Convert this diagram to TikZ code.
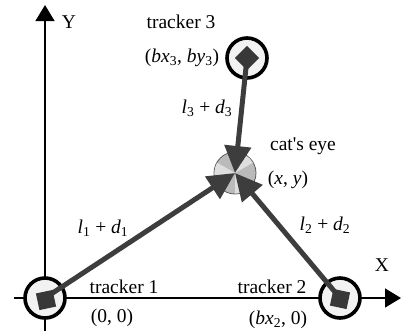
\documentclass[tikz,border=0pt]{standalone}
\usepackage{fontspec}
\setmainfont{Liberation Serif}
\usetikzlibrary{arrows.meta,positioning}

\begin{document}
\begin{tikzpicture}[x=1pt,y=-1pt,
   every node/.style={font=\fontsize{19.5}{23}\selectfont,inner sep=0pt},
   tracker/.style={circle,draw=black,line width=3.6pt,fill=black!5,minimum size=40pt},
   target/.style={rectangle,fill=black!78,minimum size=17pt},
   beam/.style={-{Triangle[length=27pt,width=26pt]},line width=5pt,draw=black!76},
   axis/.style={-{Triangle[length=16pt,width=19pt]},line width=1.3pt}]
  \useasboundingbox (0,0) rectangle (401,333);
  % axes
  \coordinate (xs) at (14,298);
  \coordinate (xe) at (401,298);
  \coordinate (ys) at (45,331);
  \coordinate (ye) at (45,5);
  \draw[axis] (xs) -- (xe);
  \draw[axis] (ys) -- (ye);
  \node (xlab) at (382,265) {X};
  \node (ylab) at (69,22) {Y};
  % trackers and cat's eye
  \node[tracker] (t1) at (45,298) {};
  \node[tracker] (t2) at (340,298) {};
  \node[tracker] (t3) at (247,58) {};
  \node[circle,draw=black!65,line width=0.8pt,fill=black!27,minimum size=42pt] (eye) at (235,173) {};
  \foreach \a in {30,150,270}
    \fill[black!13] (eye.center) -- ++(\a:20.6) arc[start angle=\a,end angle=\a+60,radius=20.6] -- cycle;
  \path
   (t1.center) edge[beam] (eye.center)
   (t2.center) edge[beam] (eye.center)
   (t3.center) edge[beam] (eye.center);
  \node[target,rotate=12] (s1) at (46,300) {};
  \node[target,rotate=-12] (s2) at (340,299) {};
  \node[target,rotate=45] (s3) at (247,58) {};
  % labels
  \node (n3) at (181,22) {tracker 3};
  \node (p3) at (182,58) {(\textit{bx}\textsubscript{3}, \textit{by}\textsubscript{3})};
  \node (d3) at (207,108) {\textit{l}\textsubscript{3} + \textit{d}\textsubscript{3}};
  \node (ne) at (303,146) {cat\textquotesingle s eye};
  \node (pe) at (288,180) {(\textit{x}, \textit{y})};
  \node (d1) at (103,228) {\textit{l}\textsubscript{1} + \textit{d}\textsubscript{1}};
  \node (d2) at (325,225) {\textit{l}\textsubscript{2} + \textit{d}\textsubscript{2}};
  \node (n1) at (124,287) {tracker 1};
  \node (p1) at (112,318) {(0, 0)};
  \node (n2) at (272,287) {tracker 2};
  \node (p2) at (278,320) {(\textit{bx}\textsubscript{2}, 0)};
\end{tikzpicture}
\end{document}
